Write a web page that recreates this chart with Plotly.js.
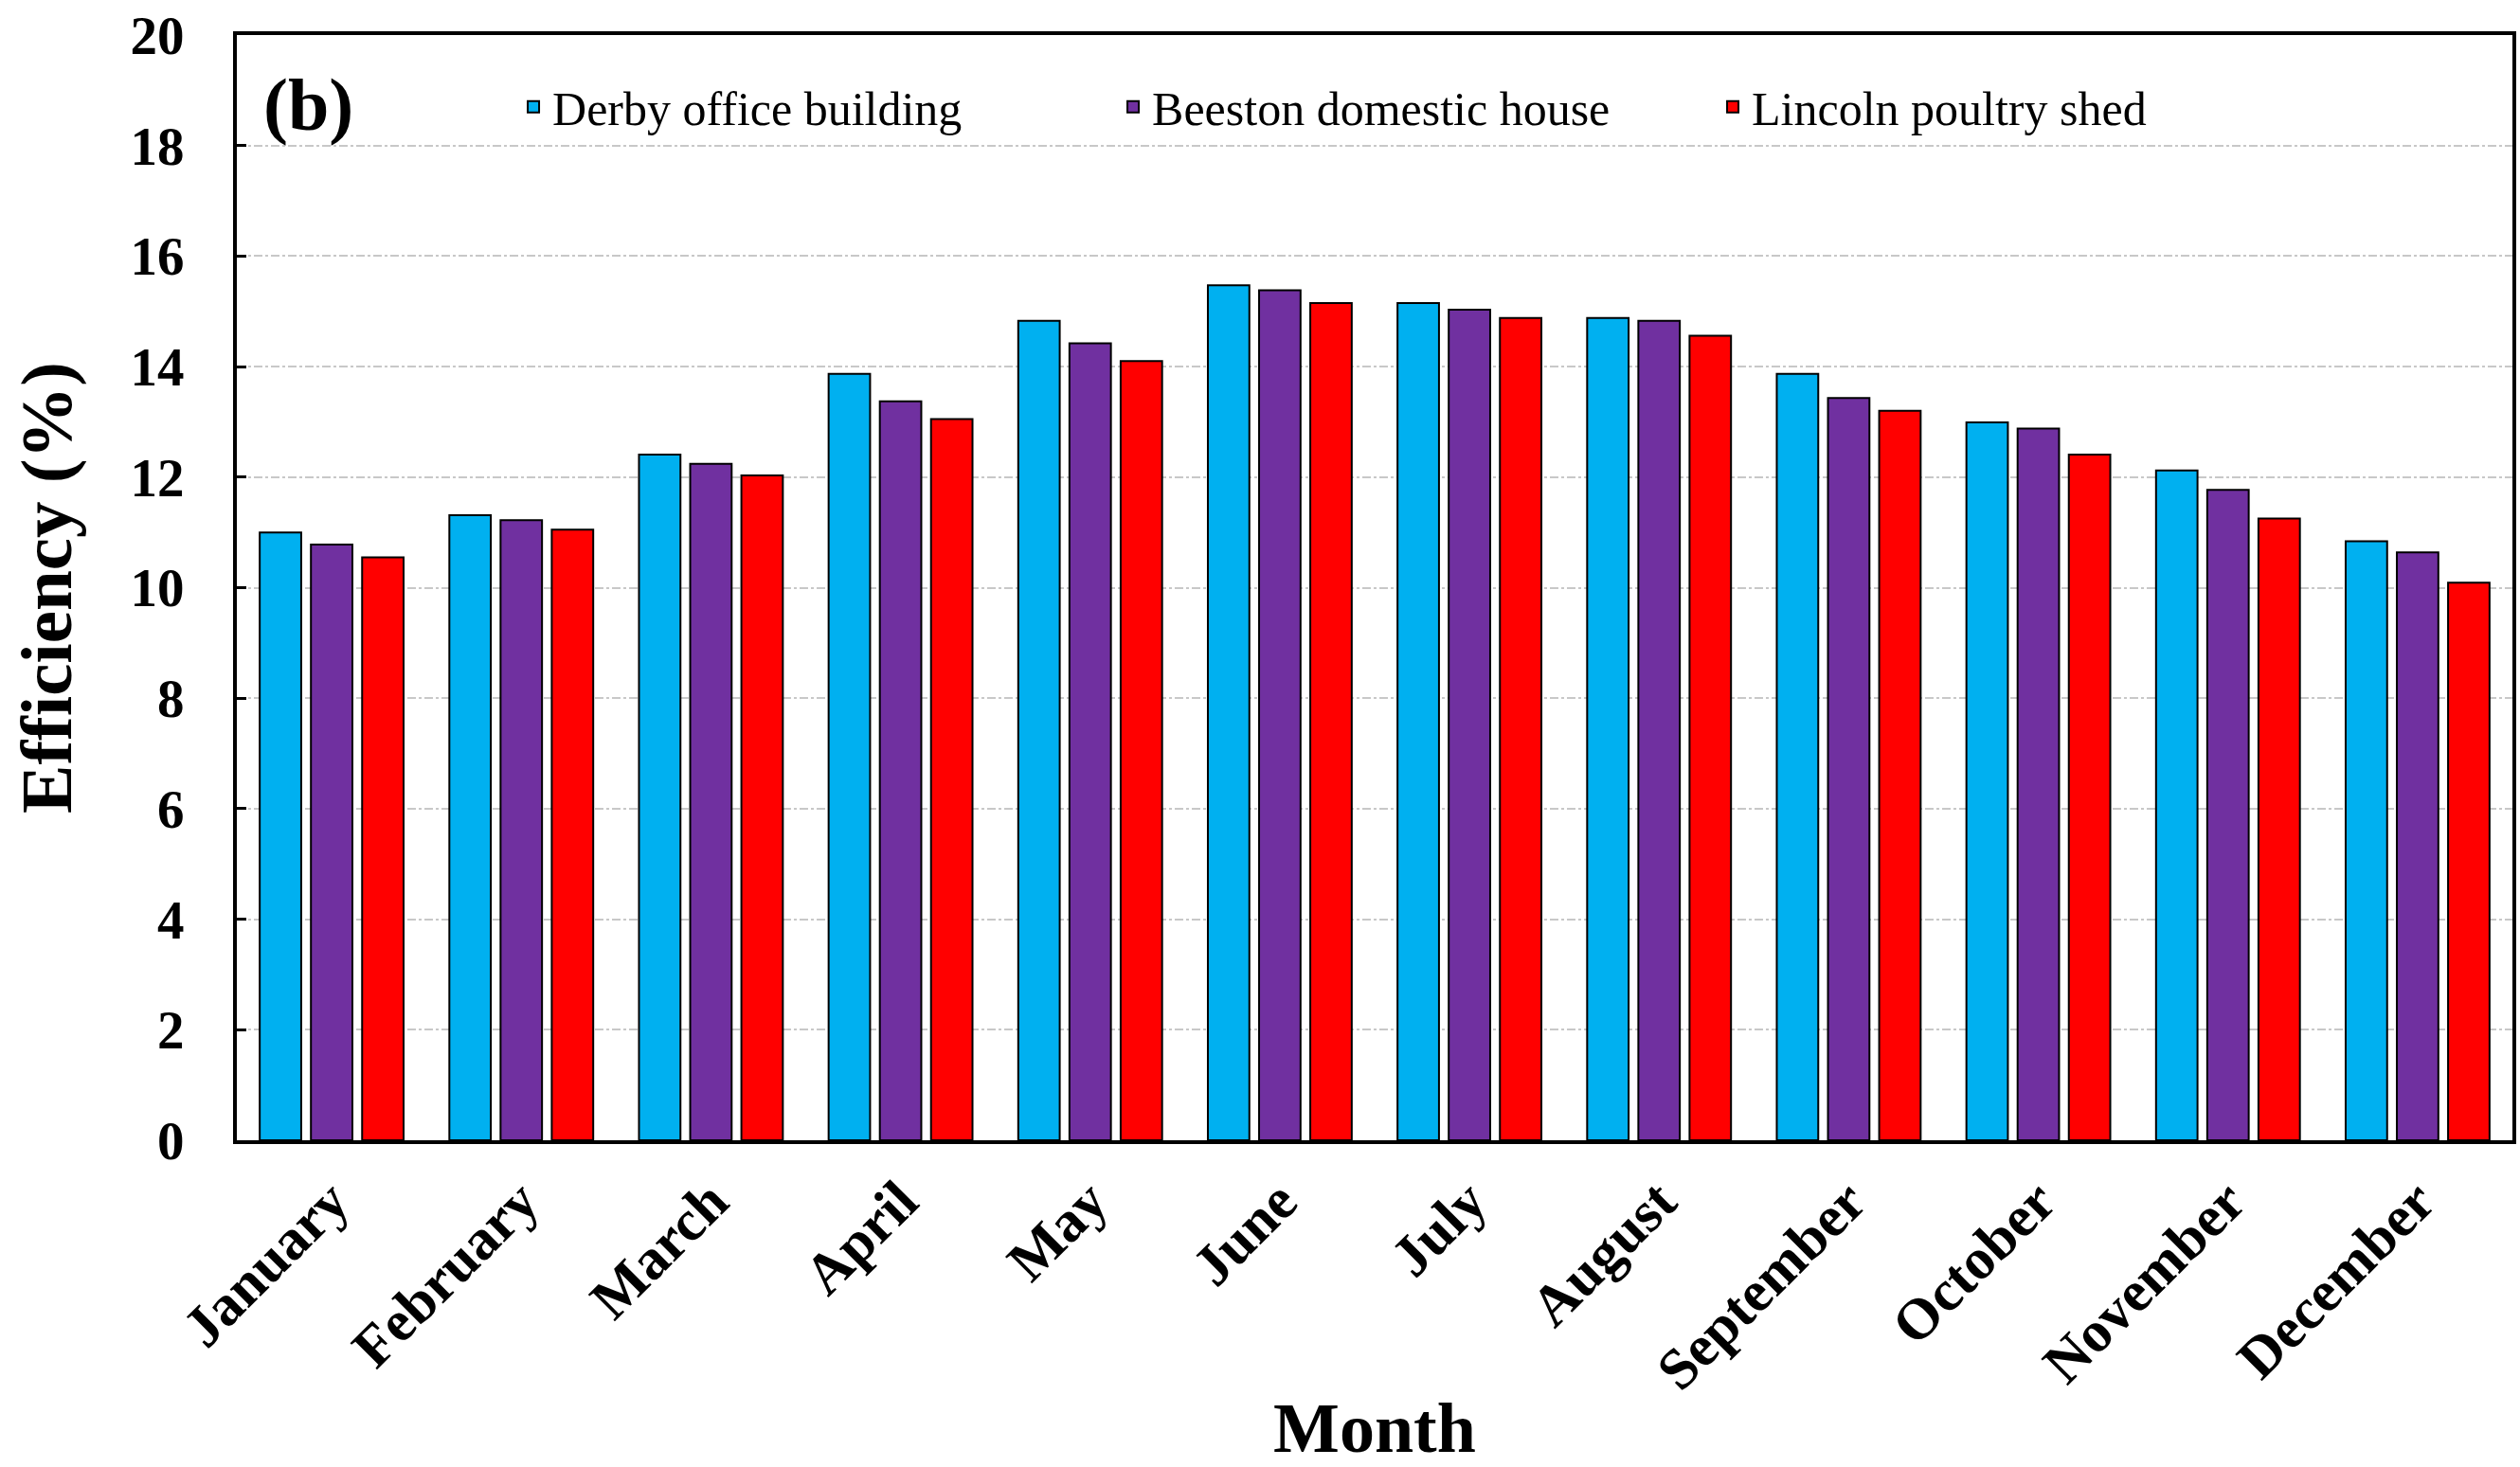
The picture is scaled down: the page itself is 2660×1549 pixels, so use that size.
<!DOCTYPE html>
<html>
<head>
<meta charset="utf-8">
<script src="https://cdn.plot.ly/plotly-3.0.1.min.js"></script>
<style>html,body{margin:0;padding:0;background:#fff;}#chart{width:2660px;height:1549px;}</style>
</head>
<body>
<div id="chart"></div>
<script>
const months = ["January","February","March","April","May","June","July","August","September","October","November","December"];
const seriesNames = ["Derby office building","Beeston domestic house","Lincoln poultry shed"];
const derby   = [11.00, 11.31, 12.41, 13.87, 14.83, 15.47, 15.15, 14.88, 13.87, 12.99, 12.12, 10.84];
const beeston = [10.78, 11.22, 12.24, 13.37, 14.42, 15.38, 15.03, 14.83, 13.43, 12.88, 11.77, 10.64];
const lincoln = [10.55, 11.05, 12.03, 13.05, 14.10, 15.15, 14.88, 14.56, 13.20, 12.41, 11.25, 10.09];
const yTicks = [0,2,4,6,8,10,12,14,16,18,20];
const colors = ["#00B0F0","#7030A0","#FF0000"];

const font = "Liberation Serif, Times New Roman, serif";
const values = [derby, beeston, lincoln];
const traces = values.map((v,i)=>({
  type:"bar", x:months, y:v, name:seriesNames[i],
  marker:{color:colors[i], line:{color:"#000", width:2}}
}));

const layout = {
  width:2660, height:1549,
  margin:{l:250, r:8, t:37, b:345},
  paper_bgcolor:"#fff", plot_bgcolor:"#fff",
  barmode:"group", bargap:0.19, bargroupgap:0.19,
  font:{family:font, color:"#000"},
  showlegend:true,
  legend:{orientation:"h", x:0.122, xanchor:"left", y:0.935, yanchor:"middle",
    font:{family:font, size:50, color:"#000"}, bgcolor:"rgba(0,0,0,0)",
    entrywidth:588, entrywidthmode:"pixels", traceorder:"normal"},
  xaxis:{
    type:"category", tickangle:-45,
    tickfont:{family:font, size:61, color:"#000", weight:"bold"},
    showline:true, linecolor:"#000", linewidth:4, mirror:true,
    ticks:"", showgrid:false, automargin:false,
    title:{text:"<b>Month</b>", font:{family:font, size:74, color:"#000"}, standoff:10}
  },
  yaxis:{
    range:[0,20], tickvals:yTicks, ticktext:yTicks.map(String),
    tickfont:{family:font, size:57, color:"#000", weight:"bold"},
    showline:true, linecolor:"#000", linewidth:4, mirror:true,
    ticks:"inside", ticklen:10, tickwidth:3, tickcolor:"#000",
    ticklabelstandoff:40,
    showgrid:true, gridcolor:"#c8c8c8", gridwidth:2, griddash:"dashdot",
    zeroline:false, automargin:false,
    title:{text:"<b>Efficiency (%)</b>", font:{family:font, size:77, color:"#000"}, standoff:38}
  },
  annotations:[{
    text:"<b>(b)</b>", xref:"paper", yref:"paper", x:0.011, y:0.937,
    xanchor:"left", yanchor:"middle", showarrow:false,
    font:{family:font, size:78, color:"#000"}
  }]
};
Plotly.newPlot("chart", traces, layout, {displayModeBar:false, staticPlot:true});
</script>
</body>
</html>
